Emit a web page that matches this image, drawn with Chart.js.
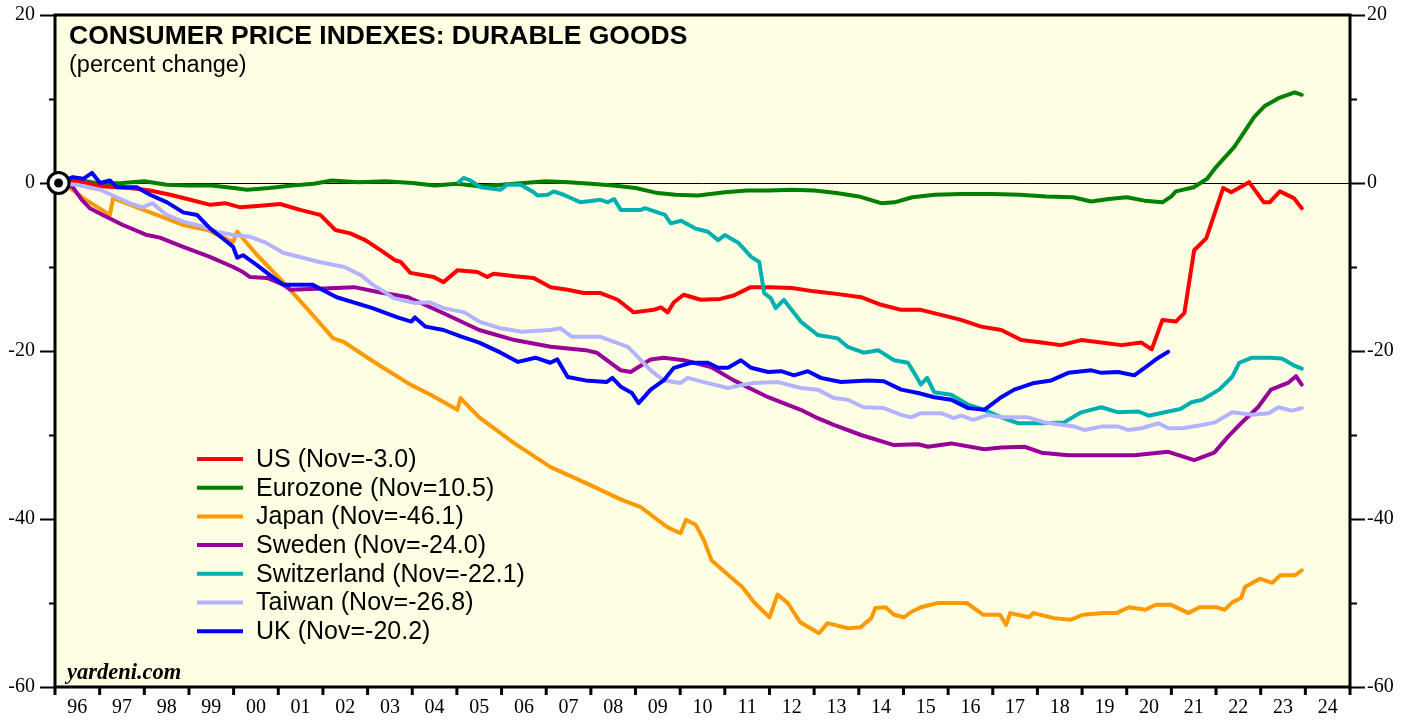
<!DOCTYPE html>
<html>
<head>
<meta charset="utf-8">
<script src="https://cdn.jsdelivr.net/npm/chart.js@4.4.0/dist/chart.umd.min.js"></script>
<style>
  body { margin: 0; background: #fff; }
  canvas { display: block; }
</style>
</head>
<body>
<canvas id="chart" width="1416" height="721"></canvas>
<script>
// values: [decimal year, percent change since Jan 1996]
const us = [[1996.08,0],[1996.5,0.3],[1997.01,-0.4],[1997.68,-0.6],[1998.13,-0.9],[1998.58,-1.4],[1999.03,-2.0],[1999.48,-2.6],[1999.81,-2.4],[2000.15,-2.9],[2000.6,-2.7],[2001.04,-2.5],[2001.49,-3.2],[2001.94,-3.8],[2002.28,-5.6],[2002.61,-6.0],[2002.95,-6.8],[2003.29,-8.0],[2003.62,-9.2],[2003.74,-9.4],[2003.96,-10.7],[2004.48,-11.2],[2004.7,-11.8],[2005.01,-10.4],[2005.46,-10.6],[2005.68,-11.2],[2005.82,-10.8],[2006.3,-11.1],[2006.72,-11.3],[2007.1,-12.4],[2007.48,-12.7],[2007.84,-13.1],[2008.22,-13.1],[2008.6,-13.9],[2008.96,-15.4],[2009.41,-15.1],[2009.57,-14.8],[2009.72,-15.4],[2009.86,-14.2],[2010.08,-13.3],[2010.46,-13.9],[2010.9,-13.8],[2011.2,-13.4],[2011.58,-12.4],[2012.0,-12.4],[2012.5,-12.5],[2013.0,-12.9],[2013.5,-13.2],[2014.05,-13.6],[2014.5,-14.5],[2014.95,-15.1],[2015.39,-15.1],[2015.84,-15.7],[2016.29,-16.3],[2016.74,-17.1],[2017.19,-17.5],[2017.64,-18.7],[2018.09,-19.0],[2018.53,-19.3],[2018.98,-18.7],[2019.43,-19.0],[2019.88,-19.3],[2020.33,-19.0],[2020.56,-19.8],[2020.8,-16.3],[2021.1,-16.5],[2021.29,-15.5],[2021.51,-8.0],[2021.78,-6.6],[2022.16,-0.6],[2022.34,-1.1],[2022.74,0.1],[2023.07,-2.3],[2023.2,-2.3],[2023.43,-1.0],[2023.74,-1.8],[2023.92,-3.0]];

const eurozone = [[1996.08,0],[1996.6,0.3],[1997.0,-0.1],[1997.5,0.0],[1998.0,0.2],[1998.5,-0.2],[1999.0,-0.3],[1999.5,-0.3],[2000.0,-0.6],[2000.3,-0.8],[2000.8,-0.6],[2001.3,-0.3],[2001.8,-0.1],[2002.2,0.3],[2002.8,0.1],[2003.4,0.2],[2004.0,0.0],[2004.5,-0.3],[2005.0,-0.1],[2005.5,-0.4],[2006.0,-0.2],[2006.5,0.0],[2007.0,0.2],[2007.5,0.1],[2008.0,-0.1],[2008.5,-0.3],[2009.0,-0.6],[2009.5,-1.2],[2009.9,-1.4],[2010.4,-1.5],[2011.0,-1.1],[2011.5,-0.9],[2012.0,-0.9],[2012.5,-0.8],[2013.0,-0.9],[2013.5,-1.2],[2014.0,-1.6],[2014.5,-2.4],[2014.8,-2.3],[2015.2,-1.7],[2015.7,-1.4],[2016.3,-1.3],[2017.0,-1.3],[2017.6,-1.4],[2018.2,-1.6],[2018.8,-1.7],[2019.2,-2.2],[2019.6,-1.9],[2020.0,-1.7],[2020.4,-2.1],[2020.8,-2.3],[2021.0,-1.6],[2021.1,-1.0],[2021.5,-0.5],[2021.8,0.5],[2022.0,1.9],[2022.41,4.3],[2022.86,7.9],[2023.1,9.2],[2023.4,10.1],[2023.76,10.8],[2023.92,10.5]];

const japan = [[1996.08,0],[1996.34,-0.6],[1996.63,-1.8],[1997.23,-3.8],[1997.3,-1.8],[1998.13,-3.5],[1998.87,-5.0],[1999.41,-5.6],[1999.99,-7.0],[2000.08,-5.8],[2000.53,-8.6],[2001.11,-11.8],[2001.72,-15.4],[2002.23,-18.5],[2002.46,-18.9],[2003.0,-20.8],[2003.35,-22.0],[2003.96,-24.0],[2004.41,-25.2],[2005.01,-27.0],[2005.08,-25.6],[2005.5,-27.9],[2006.29,-31.0],[2007.09,-33.8],[2007.88,-35.7],[2008.68,-37.7],[2009.12,-38.6],[2009.72,-41.0],[2010.01,-41.7],[2010.13,-40.1],[2010.35,-40.7],[2010.53,-42.5],[2010.7,-44.9],[2011.02,-46.4],[2011.39,-48.1],[2011.67,-50.0],[2012.0,-51.7],[2012.18,-49.0],[2012.41,-50.0],[2012.69,-52.3],[2013.11,-53.6],[2013.3,-52.4],[2013.76,-53.0],[2014.04,-52.9],[2014.28,-51.8],[2014.37,-50.6],[2014.6,-50.5],[2014.79,-51.4],[2015.02,-51.7],[2015.16,-51.1],[2015.39,-50.5],[2015.77,-50.0],[2016.42,-50.0],[2016.79,-51.4],[2017.16,-51.4],[2017.3,-52.6],[2017.39,-51.2],[2017.81,-51.7],[2017.91,-51.2],[2018.37,-51.8],[2018.74,-52.0],[2019.02,-51.4],[2019.49,-51.2],[2019.77,-51.2],[2020.05,-50.5],[2020.42,-50.8],[2020.65,-50.2],[2020.98,-50.2],[2021.39,-51.2],[2021.63,-50.5],[2022.0,-50.5],[2022.19,-50.8],[2022.37,-49.9],[2022.56,-49.4],[2022.65,-48.1],[2022.98,-47.1],[2023.26,-47.6],[2023.44,-46.7],[2023.77,-46.7],[2023.92,-46.1]];

const sweden = [[1996.08,0],[1996.4,-0.5],[1996.6,-2.0],[1996.78,-3.0],[1997.07,-3.8],[1997.52,-5.0],[1998.06,-6.2],[1998.35,-6.5],[1998.87,-7.6],[1999.47,-8.8],[1999.99,-10.0],[2000.21,-10.6],[2000.37,-11.2],[2000.75,-11.3],[2001.11,-12.1],[2001.27,-12.7],[2001.87,-12.6],[2002.7,-12.4],[2003.26,-13.0],[2003.91,-13.6],[2004.7,-15.5],[2005.5,-17.5],[2006.29,-18.7],[2007.1,-19.5],[2007.88,-19.9],[2008.13,-20.2],[2008.67,-22.3],[2008.89,-22.5],[2009.34,-21.0],[2009.63,-20.8],[2010.08,-21.1],[2010.69,-21.9],[2011.2,-23.5],[2011.97,-25.5],[2012.7,-27.0],[2013.08,-28.0],[2013.44,-28.8],[2014.05,-30.0],[2014.79,-31.2],[2015.33,-31.1],[2015.55,-31.4],[2016.07,-31.0],[2016.81,-31.7],[2017.19,-31.5],[2017.71,-31.4],[2018.09,-32.1],[2018.69,-32.4],[2019.43,-32.4],[2020.17,-32.4],[2020.93,-32.0],[2021.51,-33.0],[2021.96,-32.1],[2022.27,-30.2],[2022.56,-28.6],[2022.94,-26.7],[2023.23,-24.6],[2023.61,-23.8],[2023.79,-23.0],[2023.92,-24.0]];

const switzerland = [[2005.04,0.1],[2005.15,0.6],[2005.3,0.3],[2005.53,-0.5],[2005.98,-0.8],[2006.13,-0.2],[2006.43,-0.2],[2006.72,-1.1],[2006.81,-1.5],[2007.03,-1.4],[2007.17,-1.0],[2007.39,-1.4],[2007.77,-2.3],[2008.22,-2.0],[2008.38,-2.3],[2008.52,-1.9],[2008.67,-3.2],[2009.12,-3.2],[2009.21,-3.0],[2009.66,-3.8],[2009.79,-4.8],[2010.02,-4.5],[2010.33,-5.4],[2010.62,-5.8],[2010.85,-6.8],[2011.0,-6.2],[2011.3,-7.1],[2011.59,-8.8],[2011.77,-9.4],[2011.88,-13.1],[2012.03,-13.7],[2012.14,-14.9],[2012.32,-13.9],[2012.7,-16.5],[2013.08,-18.1],[2013.53,-18.5],[2013.75,-19.5],[2014.11,-20.2],[2014.43,-19.9],[2014.79,-21.1],[2015.1,-21.4],[2015.24,-22.6],[2015.39,-24.0],[2015.53,-23.2],[2015.69,-24.9],[2016.07,-25.2],[2016.45,-26.4],[2016.81,-27.0],[2017.19,-27.9],[2017.57,-28.6],[2018.09,-28.6],[2018.6,-28.5],[2018.98,-27.3],[2019.43,-26.7],[2019.81,-27.3],[2020.26,-27.2],[2020.49,-27.7],[2020.93,-27.2],[2021.2,-26.9],[2021.45,-26.1],[2021.69,-25.8],[2022.07,-24.6],[2022.36,-23.1],[2022.52,-21.4],[2022.81,-20.8],[2023.2,-20.8],[2023.47,-20.9],[2023.74,-21.7],[2023.92,-22.1]];

const taiwan = [[1996.08,0],[1996.49,-0.2],[1997.01,-0.8],[1997.38,-1.7],[1997.67,-2.4],[1997.96,-2.9],[1998.18,-2.4],[1998.5,-3.8],[1998.87,-4.6],[1999.31,-5.2],[1999.63,-5.8],[1999.99,-6.2],[2000.37,-6.4],[2000.72,-7.1],[2001.11,-8.3],[2001.92,-9.4],[2002.48,-10.0],[2002.86,-11.0],[2003.11,-12.1],[2003.42,-13.1],[2003.58,-13.7],[2004.07,-14.3],[2004.39,-14.2],[2004.7,-14.9],[2005.17,-15.4],[2005.5,-16.5],[2005.98,-17.3],[2006.45,-17.7],[2007.09,-17.5],[2007.32,-17.3],[2007.57,-18.3],[2008.2,-18.3],[2008.83,-19.5],[2009.05,-20.7],[2009.34,-22.3],[2009.63,-23.5],[2010.01,-23.8],[2010.17,-23.2],[2010.53,-23.7],[2011.07,-24.4],[2011.43,-24.0],[2011.65,-23.8],[2012.19,-23.7],[2012.7,-24.4],[2013.08,-24.6],[2013.44,-25.6],[2013.75,-25.8],[2014.11,-26.7],[2014.56,-26.8],[2014.95,-27.6],[2015.17,-27.9],[2015.39,-27.4],[2015.84,-27.4],[2016.13,-28.0],[2016.29,-27.7],[2016.56,-28.2],[2016.9,-27.6],[2017.19,-27.9],[2017.79,-27.9],[2018.16,-28.5],[2018.83,-29.0],[2019.05,-29.4],[2019.43,-29.0],[2019.81,-29.0],[2020.03,-29.4],[2020.33,-29.2],[2020.71,-28.6],[2020.93,-29.2],[2021.24,-29.2],[2021.69,-28.8],[2021.98,-28.5],[2022.36,-27.3],[2022.81,-27.6],[2023.18,-27.4],[2023.4,-26.7],[2023.69,-27.1],[2023.92,-26.8]];

const uk = [[1996.08,0],[1996.4,0.7],[1996.63,0.5],[1996.83,1.2],[1997.01,0],[1997.23,0.3],[1997.38,-0.5],[1997.83,-0.5],[1998.13,-1.4],[1998.51,-2.3],[1998.87,-3.5],[1999.18,-3.8],[1999.47,-5.4],[1999.85,-7.0],[1999.99,-7.6],[2000.08,-8.9],[2000.21,-8.6],[2000.53,-9.8],[2000.82,-11.0],[2001.11,-12.1],[2001.76,-12.1],[2002.31,-13.6],[2003.11,-14.9],[2003.67,-16.0],[2003.98,-16.5],[2004.06,-16.0],[2004.3,-17.1],[2004.7,-17.5],[2005.1,-18.3],[2005.5,-19.0],[2005.98,-20.2],[2006.37,-21.3],[2006.76,-20.8],[2007.09,-21.4],[2007.25,-21.0],[2007.48,-23.1],[2007.88,-23.5],[2008.35,-23.7],[2008.48,-23.2],[2008.68,-24.3],[2008.92,-25.0],[2009.07,-26.2],[2009.34,-24.6],[2009.63,-23.5],[2009.86,-22.0],[2010.24,-21.4],[2010.62,-21.4],[2010.85,-22.0],[2011.07,-22.0],[2011.36,-21.1],[2011.59,-22.0],[2011.97,-22.5],[2012.26,-22.4],[2012.55,-22.9],[2012.86,-22.4],[2013.15,-23.2],[2013.6,-23.7],[2014.2,-23.5],[2014.56,-23.6],[2014.95,-24.6],[2015.33,-25.0],[2015.69,-25.5],[2016.07,-25.8],[2016.45,-26.8],[2016.81,-27.0],[2017.19,-25.5],[2017.48,-24.6],[2017.93,-23.8],[2018.31,-23.5],[2018.69,-22.6],[2019.21,-22.3],[2019.43,-22.6],[2019.81,-22.5],[2020.17,-22.9],[2020.4,-22.0],[2020.71,-20.8],[2020.93,-20.1]];

const seriesData = [us, eurozone, japan, sweden, switzerland, taiwan, uk];
const legendLabels = ['US (Nov=-3.0)', 'Eurozone (Nov=10.5)', 'Japan (Nov=-46.1)', 'Sweden (Nov=-24.0)',
  'Switzerland (Nov=-22.1)', 'Taiwan (Nov=-26.8)', 'UK (Nov=-20.2)'];
const colors = ['#FF0000', '#008000', '#FF9900', '#990099', '#00B0B0', '#B3B3FF', '#0000FF'];
const drawOrder = [5, 6, 4, 3, 2, 1, 0]; // lower = drawn on top
const xLabels = ['96','97','98','99','00','01','02','03','04','05','06','07','08','09','10',
  '11','12','13','14','15','16','17','18','19','20','21','22','23','24'];
const yMinorTicks = [20, 10, 0, -10, -20, -30, -40, -50, -60];
const basePoint = [[1996.08, 0]];

const toXY = arr => arr.map(p => ({ x: p[0], y: p[1] }));

const datasets = seriesData.map((d, i) => ({
  label: legendLabels[i],
  data: toXY(d),
  borderColor: colors[i],
  borderWidth: 4,
  pointRadius: 0,
  tension: 0,
  borderJoinStyle: 'round',
  borderCapStyle: 'round',
  order: drawOrder[i]
}));
datasets.push({
  data: toXY(basePoint), showLine: false, clip: false, order: -2,
  pointRadius: 4.5, pointBackgroundColor: '#000', pointBorderWidth: 0
});
datasets.push({
  data: toXY(basePoint), showLine: false, clip: false, order: -1,
  pointRadius: 10.5, pointBackgroundColor: '#fff', pointBorderColor: '#000', pointBorderWidth: 3
});

const frame = {
  id: 'frame',
  beforeDatasetsDraw(chart) {
    const { ctx, chartArea: a, scales: { x, y } } = chart;
    ctx.save();
    ctx.fillStyle = '#FFFFE3';
    ctx.fillRect(a.left, a.top, a.right - a.left, a.bottom - a.top);
    // zero line
    const z = Math.round(y.getPixelForValue(0)) + 0.5;
    ctx.strokeStyle = '#000';
    ctx.lineWidth = 1;
    ctx.beginPath(); ctx.moveTo(a.left, z); ctx.lineTo(a.right, z); ctx.stroke();
    // box
    ctx.lineWidth = 3;
    ctx.strokeRect(a.left, a.top, a.right - a.left, a.bottom - a.top);
    // y ticks both sides
    ctx.lineWidth = 2;
    yMinorTicks.forEach(v => {
      const py = Math.round(y.getPixelForValue(v)) + 0.5;
      const major = v % 20 === 0;
      ctx.beginPath();
      ctx.moveTo(a.left - (major ? 15 : 6), py); ctx.lineTo(a.left, py);
      ctx.moveTo(a.right, py); ctx.lineTo(a.right + (major ? 15 : 7), py);
      ctx.stroke();
    });
    // year ticks
    ctx.lineWidth = 3;
    for (let yr = 1996; yr <= 2025; yr++) {
      const px = x.getPixelForValue(yr);
      ctx.beginPath(); ctx.moveTo(px, a.bottom); ctx.lineTo(px, a.bottom + 8); ctx.stroke();
    }
    ctx.restore();
  },
  afterDatasetsDraw(chart) {
    const { ctx } = chart;
    ctx.save();
    ctx.fillStyle = '#000';
    ctx.textBaseline = 'alphabetic';
    ctx.font = 'bold 26.5px "Liberation Sans", Arial, sans-serif';
    ctx.fillText('CONSUMER PRICE INDEXES: DURABLE GOODS', 69, 44);
    ctx.font = '23.5px "Liberation Sans", Arial, sans-serif';
    ctx.fillText('(percent change)', 69, 72);
    ctx.font = 'italic bold 22.5px "Liberation Serif", "Times New Roman", serif';
    ctx.fillText('yardeni.com', 67, 679);
    // legend
    ctx.font = '25px "Liberation Sans", Arial, sans-serif';
    ctx.textBaseline = 'middle';
    legendLabels.forEach((t, i) => {
      const ty = 459 + i * 28.7;
      ctx.strokeStyle = colors[i];
      ctx.lineWidth = 4;
      ctx.beginPath(); ctx.moveTo(197, ty); ctx.lineTo(243, ty); ctx.stroke();
      ctx.fillStyle = '#000';
      ctx.fillText(t, 256, ty + 1);
    });
    ctx.restore();
  }
};

const serifTick = { family: '"Liberation Serif", "Times New Roman", serif', size: 20 };
const noPad = s => { s.paddingTop = 0; s.paddingBottom = 0; s.paddingLeft = 0; s.paddingRight = 0; };

new Chart(document.getElementById('chart'), {
  type: 'line',
  data: { datasets },
  options: {
    responsive: false,
    animation: false,
    layout: { padding: { top: 15, left: 0, right: 0, bottom: 0 } },
    plugins: { legend: { display: false }, tooltip: { enabled: false } },
    scales: {
      x: {
        type: 'linear', min: 1996, max: 2025,
        grid: { display: false, drawTicks: false },
        border: { display: false },
        afterBuildTicks: s => { s.ticks = xLabels.map((l, i) => ({ value: 1996.5 + i })); },
        afterFit: s => { s.height = 34; noPad(s); },
        ticks: { autoSkip: false, maxRotation: 0, padding: 9, color: '#000', font: serifTick,
          callback: (v, i) => xLabels[i] }
      },
      y: {
        position: 'left', min: -60, max: 20,
        grid: { display: false, drawTicks: false },
        border: { display: false },
        afterFit: s => { s.width = 55; noPad(s); },
        ticks: { stepSize: 20, padding: 20, color: '#000', font: serifTick }
      },
      y2: {
        position: 'right', min: -60, max: 20,
        grid: { display: false, drawTicks: false },
        border: { display: false },
        afterFit: s => { s.width = 66; noPad(s); },
        ticks: { stepSize: 20, padding: 17, color: '#000', font: serifTick }
      }
    }
  },
  plugins: [frame]
});
</script>
</body>
</html>
